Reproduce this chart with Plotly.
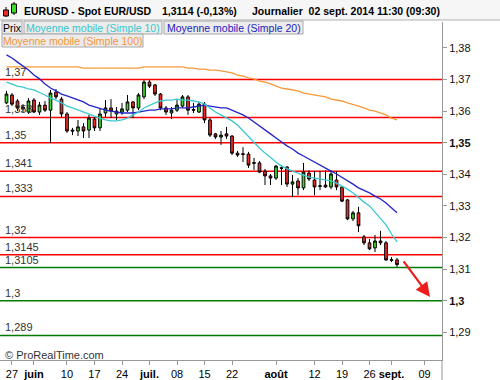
import plotly.graph_objects as go

# ---------------- data ----------------
idx = list(range(72))  # trading days, 0 = 26 May 2014 ... 71 = 02 Sept 2014

opens = [1.3626, 1.3651, 1.3632, 1.3613, 1.3597, 1.3635, 1.3597, 1.3619, 1.3603, 1.3660,
         1.3638, 1.3591, 1.3540, 1.3537, 1.3550, 1.3540, 1.3575, 1.3547, 1.3594, 1.3610,
         1.3591, 1.3597, 1.3603, 1.3629, 1.3610, 1.3645, 1.3692, 1.3683, 1.3654, 1.3610,
         1.3594, 1.3603, 1.3616, 1.3645, 1.3605, 1.3597, 1.3622, 1.3572, 1.3528, 1.3518,
         1.3528, 1.3521, 1.3467, 1.3465, 1.3464, 1.3437, 1.3436, 1.3410, 1.3395, 1.3388,
         1.3421, 1.3423, 1.3369, 1.3379, 1.3357, 1.3404, 1.3382, 1.3364, 1.3366, 1.3360,
         1.3382, 1.3360, 1.3319, 1.3259, 1.3278, 1.3202, 1.3183, 1.3167, 1.3189, 1.3183,
         1.3130, 1.3129]
highs = [1.3664, 1.3657, 1.3638, 1.3622, 1.3641, 1.3641, 1.3629, 1.3632, 1.3667, 1.3670,
         1.3645, 1.3597, 1.3547, 1.3572, 1.3562, 1.3588, 1.3581, 1.3610, 1.3635, 1.3638,
         1.3613, 1.3626, 1.3651, 1.3632, 1.3657, 1.3698, 1.3698, 1.3686, 1.3657, 1.3616,
         1.3613, 1.3635, 1.3651, 1.3651, 1.3626, 1.3629, 1.3629, 1.3578, 1.3531, 1.3537,
         1.3550, 1.3524, 1.3474, 1.3486, 1.3471, 1.3452, 1.3442, 1.3417, 1.3401, 1.3429,
         1.3429, 1.3426, 1.3398, 1.3388, 1.3436, 1.3413, 1.3410, 1.3410, 1.3413, 1.3413,
         1.3410, 1.3363, 1.3322, 1.3284, 1.3297, 1.3208, 1.3195, 1.3208, 1.3221, 1.3189,
         1.3138, 1.3135]
lows = [1.3622, 1.3616, 1.3600, 1.3597, 1.3591, 1.3594, 1.3588, 1.3597, 1.3499, 1.3638,
        1.3581, 1.3531, 1.3524, 1.3521, 1.3515, 1.3515, 1.3537, 1.3537, 1.3578, 1.3578,
        1.3572, 1.3588, 1.3597, 1.3578, 1.3603, 1.3638, 1.3673, 1.3648, 1.3603, 1.3588,
        1.3575, 1.3597, 1.3610, 1.3588, 1.3594, 1.3594, 1.3562, 1.3518, 1.3512, 1.3493,
        1.3512, 1.3461, 1.3455, 1.3439, 1.3420, 1.3414, 1.3404, 1.3366, 1.3366, 1.3382,
        1.3366, 1.3360, 1.3328, 1.3334, 1.3350, 1.3379, 1.3334, 1.3350, 1.3357, 1.3353,
        1.3350, 1.3312, 1.3255, 1.3252, 1.3217, 1.3176, 1.3160, 1.3154, 1.3176, 1.3126,
        1.3122, 1.3107]
closes = [1.3654, 1.3622, 1.3610, 1.3607, 1.3632, 1.3597, 1.3619, 1.3603, 1.3657, 1.3645,
          1.3591, 1.3537, 1.3537, 1.3550, 1.3537, 1.3578, 1.3547, 1.3591, 1.3610, 1.3600,
          1.3600, 1.3607, 1.3629, 1.3610, 1.3651, 1.3692, 1.3679, 1.3654, 1.3610, 1.3597,
          1.3603, 1.3619, 1.3645, 1.3603, 1.3603, 1.3622, 1.3572, 1.3524, 1.3518, 1.3524,
          1.3521, 1.3467, 1.3461, 1.3463, 1.3429, 1.3435, 1.3407, 1.3395, 1.3388, 1.3426,
          1.3419, 1.3369, 1.3376, 1.3357, 1.3407, 1.3385, 1.3360, 1.3362, 1.3360, 1.3401,
          1.3360, 1.3315, 1.3259, 1.3278, 1.3237, 1.3183, 1.3164, 1.3189, 1.3183, 1.3129,
          1.3128, 1.3114]

sma10 = [1.3692, 1.3686, 1.3679, 1.3676, 1.3670, 1.3667, 1.3660, 1.3651, 1.3641, 1.3635,
         1.3626, 1.3616, 1.3610, 1.3603, 1.3597, 1.3591, 1.3584, 1.3578, 1.3572, 1.3569,
         1.3569, 1.3572, 1.3578, 1.3588, 1.3597, 1.3610, 1.3619, 1.3626, 1.3632, 1.3635,
         1.3635, 1.3638, 1.3635, 1.3635, 1.3632, 1.3629, 1.3622, 1.3610, 1.3597, 1.3588,
         1.3578, 1.3569, 1.3556, 1.3537, 1.3518, 1.3499, 1.3483, 1.3467, 1.3452, 1.3439,
         1.3426, 1.3417, 1.3410, 1.3404, 1.3398, 1.3391, 1.3388, 1.3385, 1.3382, 1.3379,
         1.3372, 1.3363, 1.3353, 1.3341, 1.3325, 1.3312, 1.3300, 1.3281, 1.3262, 1.3240,
         1.3211, 1.3186]
sma20 = [1.3778, 1.3768, 1.3755, 1.3743, 1.3730, 1.3714, 1.3702, 1.3686, 1.3673, 1.3664,
         1.3654, 1.3648, 1.3641, 1.3635, 1.3629, 1.3619, 1.3613, 1.3607, 1.3603, 1.3600,
         1.3597, 1.3594, 1.3594, 1.3594, 1.3597, 1.3600, 1.3603, 1.3603, 1.3607, 1.3607,
         1.3607, 1.3610, 1.3610, 1.3610, 1.3613, 1.3616, 1.3619, 1.3616, 1.3613, 1.3610,
         1.3610, 1.3603, 1.3597, 1.3588, 1.3578, 1.3566, 1.3553, 1.3540, 1.3528, 1.3515,
         1.3502, 1.3490, 1.3480, 1.3467, 1.3458, 1.3448, 1.3439, 1.3429, 1.3420, 1.3410,
         1.3401, 1.3391, 1.3379, 1.3369, 1.3357, 1.3350, 1.3341, 1.3331, 1.3322, 1.3309,
         1.3293, 1.3278]
sma100 = [1.3740, 1.3740, 1.3740, 1.3740, 1.3740, 1.3740, 1.3740, 1.3740, 1.3740, 1.3740,
          1.3740, 1.3740, 1.3740, 1.3740, 1.3736, 1.3736, 1.3736, 1.3736, 1.3736, 1.3736,
          1.3736, 1.3736, 1.3736, 1.3736, 1.3736, 1.3740, 1.3740, 1.3740, 1.3740, 1.3740,
          1.3740, 1.3740, 1.3740, 1.3736, 1.3736, 1.3733, 1.3733, 1.3730, 1.3730, 1.3727,
          1.3724, 1.3721, 1.3714, 1.3711, 1.3705, 1.3702, 1.3695, 1.3692, 1.3686, 1.3679,
          1.3673, 1.3670, 1.3667, 1.3664, 1.3657, 1.3654, 1.3651, 1.3648, 1.3645, 1.3638,
          1.3635, 1.3632, 1.3626, 1.3622, 1.3616, 1.3610, 1.3603, 1.3600, 1.3594, 1.3588,
          1.3578, 1.3572]

levels = [1.37, 1.358, 1.35, 1.341, 1.333, 1.32, 1.3145, 1.3105, 1.3, 1.289]
level_labels = ["1,37", "1,358", "1,35", "1,341", "1,333", "1,32", "1,3145", "1,3105", "1,3", "1,289"]
level_colors = ["#ff0000"] * 7 + ["#007a00", "#008000", "#007a00"]

xtick_vals = [1, 5, 11, 16, 21, 26, 31, 36, 41, 49, 56, 61, 66, 70, 76]
xtick_text = ["27", "<b>juin</b>", "10", "17", "24", "<b>juil.</b>", "08", "15", "22",
              "<b>août</b>", "12", "19", "26", "<b>sept.</b>", "09"]
ytick_vals = [1.29, 1.30, 1.31, 1.32, 1.33, 1.34, 1.35, 1.36, 1.37, 1.38]
ytick_text = ["1,29", "<b>1,3</b>", "1,31", "1,32", "1,33", "1,34", "<b>1,35</b>", "1,36", "1,37", "1,38"]

arrow_from = (72.0, 1.3129)
arrow_to = (77.0, 1.3012)

# ---------------- layout helpers ----------------
W, H = 500, 380
PL, PR, PT, PB = 0, 442, 22, 360  # plot area in pixels


def px(xp):
    return (xp - PL) / (PR - PL)


def py(yp):
    return (PB - yp) / (PB - PT)


FONT = "Liberation Sans, Arial, sans-serif"

fig = go.Figure()

fig.add_trace(go.Candlestick(
    x=idx, open=opens, high=highs, low=lows, close=closes,
    increasing=dict(fillcolor="#3fdc2a", line=dict(color="#000000", width=1)),
    decreasing=dict(fillcolor="#f42a2a", line=dict(color="#000000", width=1)),
    whiskerwidth=0, hoverinfo="skip",
))
fig.add_trace(go.Scatter(x=idx, y=sma100, mode="lines", line=dict(color="#f7993a", width=1.3), hoverinfo="skip"))
fig.add_trace(go.Scatter(x=idx, y=sma20, mode="lines", line=dict(color="#2424c8", width=1.3), hoverinfo="skip"))
fig.add_trace(go.Scatter(x=idx, y=sma10, mode="lines", line=dict(color="#3cc8d0", width=1.3), hoverinfo="skip"))

shapes = []
annotations = []

# horizontal levels
for lv, lab, col in zip(levels, level_labels, level_colors):
    shapes.append(dict(type="line", xref="paper", x0=0, x1=1, yref="y", y0=lv, y1=lv,
                       line=dict(color=col, width=1.5), layer="below"))
    annotations.append(dict(xref="paper", x=px(3), yref="y", y=lv, text=lab, showarrow=False,
                            xanchor="left", yanchor="bottom", yshift=0,
                            font=dict(family=FONT, size=11, color="#333333")))

# header band
shapes.append(dict(type="rect", xref="paper", yref="paper", x0=px(0), x1=px(W), y0=py(20), y1=py(0),
                   fillcolor="#f6f6f6", line=dict(width=0), layer="below"))
shapes.append(dict(type="line", xref="paper", yref="paper", x0=px(0), x1=px(W), y0=py(20), y1=py(20),
                   line=dict(color="#b0b0b0", width=1)))
# header candle icon
shapes.append(dict(type="line", xref="paper", yref="paper", x0=px(6), x1=px(6), y0=py(17), y1=py(7),
                   line=dict(color="#000", width=1)))
shapes.append(dict(type="rect", xref="paper", yref="paper", x0=px(3.5), x1=px(8.5), y0=py(16), y1=py(10),
                   fillcolor="#f42a2a", line=dict(color="#000", width=1)))
shapes.append(dict(type="line", xref="paper", yref="paper", x0=px(14), x1=px(14), y0=py(15), y1=py(2),
                   line=dict(color="#000", width=1)))
shapes.append(dict(type="rect", xref="paper", yref="paper", x0=px(11.5), x1=px(16.5), y0=py(13), y1=py(4),
                   fillcolor="#3fdc2a", line=dict(color="#000", width=1)))

header = [(22, "<b>EURUSD - Spot EUR/USD</b>"), (160, "<b>1,3114 (-0,13%)</b>"),
          (250, "<b>Journalier  02 sept. 2014 11:30 (09:30)</b>")]
for x0, t in header:
    annotations.append(dict(xref="paper", yref="paper", x=px(x0), y=py(10.5), text=t, showarrow=False,
                            xanchor="left", yanchor="middle",
                            font=dict(family=FONT, size=10.5, color="#000")))

# legend boxes
boxes = [(2, 22, 21, 34, "Prix", "#000000"),
         (24, 162, 21, 34, "Moyenne mobile (Simple 10)", "#33c6cc"),
         (164, 303, 21, 34, "Moyenne mobile (Simple 20)", "#1c1cc0"),
         (2, 143, 34, 47, "Moyenne mobile (Simple 100)", "#f59438")]
for x0, x1, y0, y1, t, c in boxes:
    shapes.append(dict(type="rect", xref="paper", yref="paper", x0=px(x0), x1=px(x1), y0=py(y1), y1=py(y0),
                       fillcolor="#ececec", line=dict(color="#a8a8a8", width=1), layer="above"))
    annotations.append(dict(xref="paper", yref="paper", x=px((x0 + x1) / 2), y=py((y0 + y1) / 2 + 0.5),
                            text=t, showarrow=False, xanchor="center", yanchor="middle",
                            font=dict(family=FONT, size=10.5, color=c)))

# axis line extension below plot
shapes.append(dict(type="line", xref="paper", yref="paper", x0=1, x1=1, y0=py(380), y1=py(360),
                   line=dict(color="#999", width=1)))

annotations.append(dict(xref="paper", yref="paper", x=px(3), y=py(355), text="© ProRealTime.com",
                        showarrow=False, xanchor="left", yanchor="middle",
                        font=dict(family=FONT, size=11, color="#333")))

annotations.append(dict(x=arrow_to[0], y=arrow_to[1], ax=arrow_from[0], ay=arrow_from[1],
                        xref="x", yref="y", axref="x", ayref="y", text="", showarrow=True,
                        arrowhead=2, arrowsize=1.3, arrowwidth=2.2, arrowcolor="#ee1c1c"))

fig.update_layout(
    width=W, height=H,
    margin=dict(l=PL, r=W - PR, t=PT, b=H - PB, pad=0),
    paper_bgcolor="white", plot_bgcolor="white", showlegend=False,
    font=dict(family=FONT, size=11, color="#222"),
    xaxis=dict(range=[-1.18, 79.18], tickmode="array", tickvals=xtick_vals, ticktext=xtick_text,
               ticks="outside", ticklen=4, tickcolor="#999", showline=True, linecolor="#999",
               showgrid=False, zeroline=False, rangeslider=dict(visible=False),
               tickfont=dict(family=FONT, size=11, color="#000")),
    yaxis=dict(side="right", range=[1.28123, 1.3882], tickmode="array", tickvals=ytick_vals,
               ticktext=ytick_text, ticks="outside", ticklen=4, tickcolor="#999", showline=True,
               linecolor="#999", showgrid=False, zeroline=False,
               tickfont=dict(family=FONT, size=11, color="#111")),
    shapes=shapes, annotations=annotations,
)

fig.write_html("out.html", config={"displayModeBar": False},
               post_script="document.body.style.margin='0';document.body.style.overflow='hidden';")
